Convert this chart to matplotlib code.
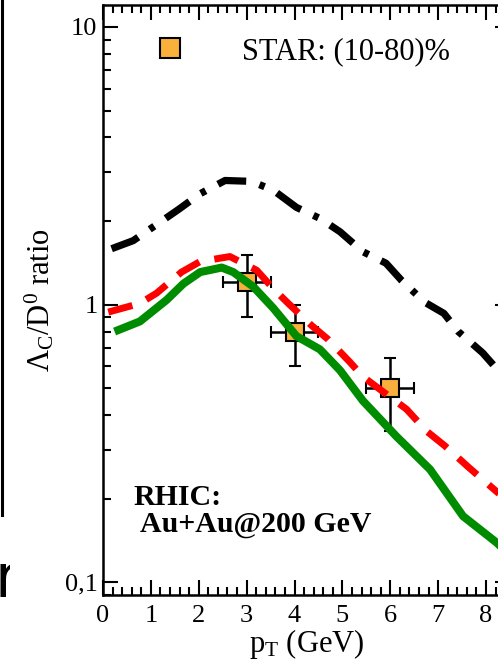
import matplotlib
matplotlib.use('Agg')
import matplotlib.pyplot as plt
from matplotlib.lines import Line2D
from matplotlib.patches import Rectangle
from matplotlib.ticker import FixedLocator, FuncFormatter, MultipleLocator, NullFormatter

# STAR data points (10-80)%
star_pt = [3.0, 4.0, 6.0]
star_ratio = [1.21, 0.80, 0.50]
star_xerr = [0.5, 0.5, 0.5]
star_ylo = [0.90, 0.60, 0.35]
star_yhi = [1.51, 1.00, 0.64]

# model curves
pt_black = [0.18, 0.63, 1.19, 1.59, 2.03, 2.55, 3.1, 3.56, 4.04, 4.54, 4.95, 5.43,
            5.91, 6.24, 6.72, 7.12, 7.42, 7.93, 8.25, 8.4]
ratio_black = [1.59, 1.70, 1.98, 2.21, 2.51, 2.80, 2.78, 2.58, 2.24, 2.04, 1.83, 1.55,
               1.41, 1.22, 1.02, 0.93, 0.80, 0.67, 0.58, 0.55]

pt_red = [0.11, 0.77, 1.12, 1.64, 2.03, 2.65, 3.21, 3.56, 3.87, 4.36, 4.70, 5.16,
          5.43, 5.96, 6.34, 6.76, 7.14, 7.63, 8.25, 8.4]
ratio_red = [0.94, 1.01, 1.10, 1.31, 1.43, 1.49, 1.33, 1.14, 1.01, 0.84, 0.75, 0.62,
             0.55, 0.47, 0.42, 0.35, 0.31, 0.26, 0.21, 0.20]

pt_green = [0.32, 0.77, 1.33, 1.68, 2.03, 2.48, 2.72, 3.14, 3.56, 4.04, 4.53, 4.95,
            5.43, 6.13, 6.83, 7.52, 8.22, 8.4]
ratio_green = [0.81, 0.87, 1.04, 1.19, 1.31, 1.36, 1.31, 1.16, 0.97, 0.77, 0.69, 0.58,
               0.45, 0.335, 0.255, 0.173, 0.139, 0.13]

ytick_vals = [0.1, 1, 10]
ytick_text = ['0,1', '1', '10']

plt.rcParams['font.family'] = ['Liberation Serif', 'DejaVu Serif']
plt.rcParams['mathtext.fontset'] = 'custom'
plt.rcParams['mathtext.rm'] = 'Liberation Serif'
plt.rcParams['mathtext.it'] = 'Liberation Serif:italic'
plt.rcParams['mathtext.bf'] = 'Liberation Serif:bold'
plt.rcParams['lines.scale_dashes'] = False

orange = '#F9B03C'

fig = plt.figure(figsize=(4.98, 6.62), dpi=100)
ax = fig.add_axes([103 / 498, 1 - 595 / 662, 407 / 498, 590 / 662])

ax.errorbar(star_pt, star_ratio, xerr=star_xerr,
            yerr=[[r - lo for r, lo in zip(star_ratio, star_ylo)],
                  [hi - r for r, hi in zip(star_ratio, star_yhi)]],
            fmt='s', ms=13, mfc=orange, mec='black', mew=1.5, ecolor='black',
            elinewidth=1.8, capsize=4.5, capthick=1.8, zorder=2)

ax.plot(pt_black, ratio_black, color='black', lw=5.2, dashes=[21, 10, 4, 10], zorder=3)
ax.plot(pt_red, ratio_red, color='red', lw=5.0, dashes=[18, 11], zorder=3)
ax.plot(pt_green, ratio_green, color='#008c00', lw=5.8, zorder=3)

ax.set_yscale('log')
ax.set_xlim(0, 8.5)
ax.set_ylim(0.09, 12)

ax.xaxis.set_major_locator(MultipleLocator(1))
ax.xaxis.set_minor_locator(MultipleLocator(0.2))
ax.yaxis.set_major_locator(FixedLocator(ytick_vals))
ax.yaxis.set_major_formatter(FuncFormatter(lambda v, p: dict(zip(ytick_vals, ytick_text)).get(v, '')))
ax.yaxis.set_minor_formatter(NullFormatter())

ax.tick_params(which='both', direction='in', top=True, right=True, width=1.5, labelsize=19)
ax.tick_params(which='major', length=11)
ax.tick_params(which='minor', length=5.5)
ax.tick_params(axis='x', pad=7)
ax.tick_params(axis='y', pad=4)
for s in ax.spines.values():
    s.set_linewidth(1.8)

ax.set_xlabel(r'$\mathrm{p_T}$ (GeV)', fontsize=22, labelpad=0)
ax.set_ylabel(r'$\Lambda_\mathrm{C}/\mathrm{D}^0$ ratio', fontsize=22, labelpad=6)

h = Line2D([], [], ls='none', marker='s', ms=14, mfc=orange, mec='black', mew=1.5)
ax.legend([h], ['STAR: (10-80)%'], loc='upper left', bbox_to_anchor=(0.09, 0.946),
          frameon=False, fontsize=22, handlelength=2, handletextpad=1.35,
          borderpad=0, borderaxespad=0)

ax.text(0.074, 0.166, 'RHIC:', transform=ax.transAxes, fontsize=21.5,
        fontweight='bold', va='center')
ax.text(0.091, 0.119, 'Au+Au@200 GeV', transform=ax.transAxes, fontsize=21.5,
        fontweight='bold', va='center')

# bits of the neighbouring panel that the crop cut into
fig.add_artist(Line2D([1.5 / 498, 1.5 / 498], [1, 1 - 515 / 662], color='black',
                      lw=2.2, transform=fig.transFigure))
t = fig.text(-5 / 498, 1 - 597 / 662, 'r', fontsize=44, family='DejaVu Sans',
             ha='left', va='baseline')
t.set_clip_path(Rectangle((0, 0), 10 / 498, 1, transform=fig.transFigure))

fig.savefig('out.png', dpi=100)
